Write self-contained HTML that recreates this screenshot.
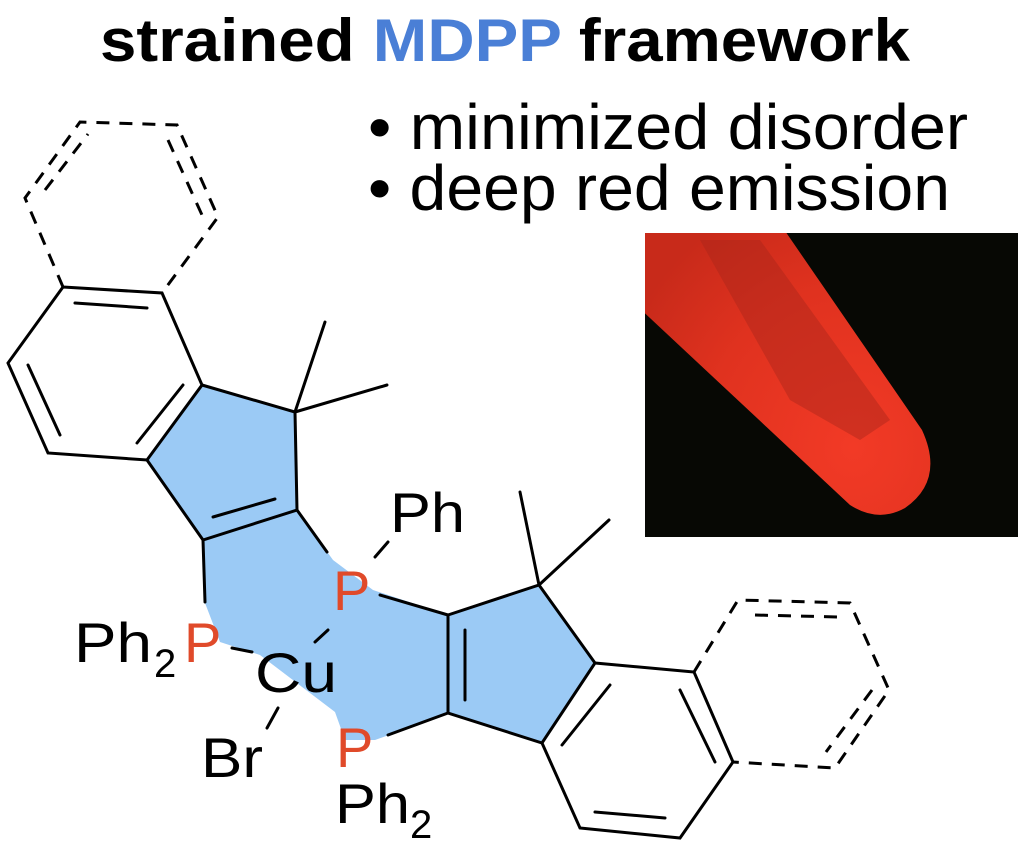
<!DOCTYPE html>
<html><head><meta charset="utf-8"><style>html,body{margin:0;padding:0;background:#fff}svg{display:block}</style></head>
<body>
<svg width="1024" height="851" viewBox="0 0 1024 851" xmlns="http://www.w3.org/2000/svg" font-family="Liberation Sans, Arial, sans-serif">
<defs>
<clipPath id="ph"><rect x="645" y="233" width="373" height="304"/></clipPath>
<radialGradient id="tg" cx="0.75" cy="0.8" r="0.8"><stop offset="0" stop-color="#f23a26"/><stop offset="0.6" stop-color="#e0321f"/><stop offset="1" stop-color="#c82a1a"/></radialGradient>
</defs>
<text x="100" y="61" font-size="60" font-weight="bold" textLength="810" lengthAdjust="spacingAndGlyphs"><tspan>strained </tspan><tspan fill="#4a7fd6">MDPP</tspan><tspan> framework</tspan></text>
<text x="368" y="149" font-size="64" textLength="600" lengthAdjust="spacingAndGlyphs">• minimized disorder</text>
<text x="368" y="210" font-size="64" textLength="582" lengthAdjust="spacingAndGlyphs">• deep red emission</text>
<rect x="645" y="233" width="373" height="304" fill="#070804"/>
<g clip-path="url(#ph)">
<path d="M620,290 L620,180 L750,180 L922,430 Q945,480 905,508 Q878,523 850,505 Z" fill="url(#tg)"/>
<path d="M700,240 L760,240 L890,420 L860,440 L790,400 Z" fill="#a8261a" opacity="0.45"/>
</g>
<path d="M202,385 L295,412 L297,510 L333,560 L373,590 L448,615 L539,585 L595,663 L542,743 L448,713 L389,735 L375,740 L345,740 L335,712 L260,655 L220,642 L205,603 L203,540 L147,460 Z" fill="#9bcaf5"/>
<g stroke="#000" stroke-width="3" fill="none" stroke-linecap="round">
<polyline points="63,287 162,293 202,385 147,460 48,453 8,363 63,287"/>
<line x1="75" y1="303" x2="147" y2="308"/>
<line x1="28" y1="365" x2="60" y2="435"/>
<line x1="183" y1="385" x2="137" y2="443"/>
<polyline points="202,385 295,412 297,510 203,540 147,460"/>
<line x1="213" y1="517" x2="275" y2="499"/>
<line x1="295" y1="412" x2="325" y2="322"/>
<line x1="295" y1="412" x2="387" y2="385"/>
<line x1="203" y1="540" x2="205" y2="602"/>
<line x1="297" y1="510" x2="327" y2="552"/>
<line x1="375" y1="557" x2="388" y2="542"/>
<line x1="380" y1="595" x2="448" y2="615"/>
<line x1="315" y1="642" x2="328" y2="630"/>
<line x1="232" y1="648" x2="252" y2="652"/>
<line x1="278" y1="708" x2="267" y2="728"/>
<line x1="388" y1="735" x2="448" y2="713"/>
<polyline points="448,615 539,585 595,663 542,743 448,713 448,615"/>
<line x1="465" y1="630" x2="465" y2="700"/>
<line x1="539" y1="585" x2="520" y2="492"/>
<line x1="539" y1="585" x2="609" y2="520"/>
<polyline points="595,663 694,672 733,762 680,838 580,828 542,743"/>
<line x1="610" y1="685" x2="562" y2="745"/>
<line x1="680" y1="690" x2="715" y2="762"/>
<line x1="595" y1="812" x2="665" y2="818"/>
</g>
<g stroke="#000" stroke-width="3" fill="none" stroke-dasharray="13,10">
<polyline points="63,287 25,198 80,122 177,125 218,217 162,293"/>
<line x1="45" y1="190" x2="88" y2="134"/>
<line x1="168" y1="140" x2="202" y2="215"/>
<polyline points="694,672 738,600 850,603 889,690 835,768 733,762"/>
<line x1="755" y1="615" x2="838" y2="617"/>
<line x1="872" y1="690" x2="826" y2="752"/>
</g>
<g font-size="56">
<text x="390" y="532" textLength="75" lengthAdjust="spacingAndGlyphs">Ph</text>
<text x="333" y="610" fill="#e04a2a">P</text>
<text x="74" y="662" textLength="78" lengthAdjust="spacingAndGlyphs">Ph</text>
<text x="154" y="677" font-size="40">2</text>
<text x="184" y="662" fill="#e04a2a">P</text>
<text x="255" y="692" textLength="82" lengthAdjust="spacingAndGlyphs">Cu</text>
<text x="336" y="767" fill="#e04a2a">P</text>
<text x="201" y="777" textLength="62" lengthAdjust="spacingAndGlyphs">Br</text>
<text x="335" y="823" textLength="75" lengthAdjust="spacingAndGlyphs">Ph</text>
<text x="410" y="838" font-size="40">2</text>
</g>
</svg>
</body></html>
